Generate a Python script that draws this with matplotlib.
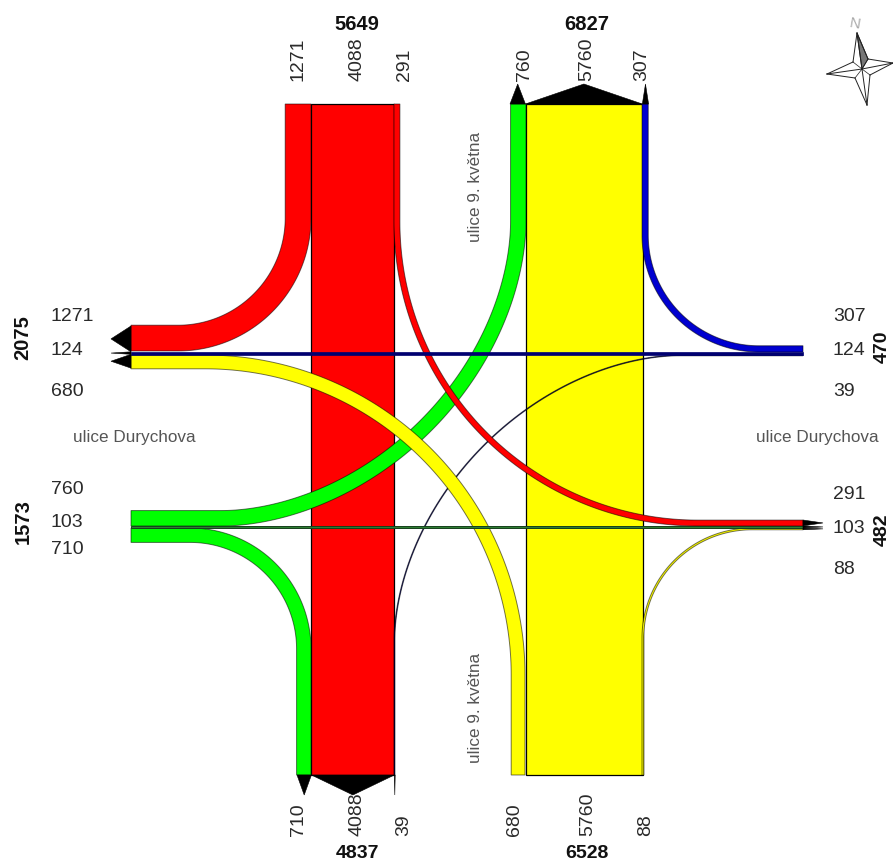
import matplotlib
matplotlib.use('Agg')
import numpy as np
import matplotlib.pyplot as plt
from matplotlib.patches import Polygon

# Traffic volumes by turning movement (vehicles)
NORTH_OUT = [760, 5760, 307]
NORTH_IN = [1271, 4088, 291]
SOUTH_OUT = [710, 4088, 39]
SOUTH_IN = [680, 5760, 88]
WEST_OUT = [1271, 124, 680]
WEST_IN = [760, 103, 710]
EAST_OUT = [291, 103, 88]
EAST_IN = [307, 124, 39]

# Arm totals
NORTH_TOTALS = [5649, 6827]
SOUTH_TOTALS = [4837, 6528]
WEST_TOTALS = [2075, 1573]
EAST_TOTALS = [470, 482]

STREET_WE = "ulice Durychova"
STREET_NS = "ulice 9. května"

# Pixels of band width per vehicle
SCALE = 0.0203
RED = '#ff0000'
YELLOW = '#ffff00'
GREEN = '#00ff00'
BLUE = '#0000d0'
NAVY = '#000070'
GREY = '#555555'
TEXT = '#2a2a2a'

plt.rcParams['font.family'] = ['Liberation Sans', 'DejaVu Sans']

fig = plt.figure(figsize=(8.93, 8.63), dpi=100)
ax = fig.add_axes([0, 0, 1, 1])
# Axes run in picture pixels, y going down
ax.set_xlim(0, 893)
ax.set_ylim(863, 0)
ax.axis('off')

LEFT, RIGHT = 131, 803
TOP, BOTTOM = 104, 775
TIP = 20


def turn(flow, cx, cy, r_out, sx, sy, color, z, n=2.0):
    # Turning band: vertical leg, rounded corner round (cx, cy), horizontal leg
    # n below 2 pulls the corner in a little, the source curves are not true circles
    r_in = r_out - flow * SCALE
    x_end = LEFT if sx > 0 else RIGHT
    y_end = TOP if sy > 0 else BOTTOM
    t = np.linspace(0, np.pi / 2, 120)
    c = np.cos(t) ** (2 / n)
    s = np.sin(t) ** (2 / n)
    inner = np.column_stack((cx + sx * r_in * c, cy + sy * r_in * s))
    outer = np.column_stack((cx + sx * r_out * c, cy + sy * r_out * s))
    pts = np.vstack((
        [[cx + sx * r_in, y_end]], inner, [[x_end, cy + sy * r_in]],
        [[x_end, cy + sy * r_out]], outer[::-1], [[cx + sx * r_out, y_end]],
    ))
    ax.add_patch(Polygon(pts, closed=True, facecolor=color, edgecolor=(0, 0, 0, 0.55), lw=0.7, zorder=z))


def head(a, b, tip):
    # Black arrow head on a band end
    ax.add_patch(Polygon([a, b, tip], closed=True, facecolor='black', edgecolor='black', lw=0.4, zorder=8))


# Straight through movements on the main road
x = 311
w_ns_s = NORTH_IN[1] * SCALE
ax.fill([x, x + w_ns_s, x + w_ns_s, x], [TOP, TOP, BOTTOM, BOTTOM], facecolor=RED, edgecolor='black', lw=0.9, zorder=1)
x = 526
w_ns_n = NORTH_OUT[1] * SCALE
ax.fill([x, x + w_ns_n, x + w_ns_n, x], [TOP, TOP, BOTTOM, BOTTOM], facecolor=YELLOW, edgecolor='black', lw=0.9, zorder=1)

# Turning movements, drawn in crossing order
turn(SOUTH_OUT[2], 679, 640, 285, -1, -1, NAVY, 2, n=1.83)
turn(SOUTH_IN[2], 752, 638, 110, -1, -1, YELLOW, 2)
turn(NORTH_IN[0], 178, 218, 133, 1, 1, RED, 3)
turn(EAST_IN[0], 759, 235, 117, -1, 1, BLUE, 3)
turn(WEST_IN[0], 222, 222, 304, 1, 1, GREEN, 3, n=1.85)
turn(NORTH_IN[2], 698, 222, 304, -1, 1, RED, 4)
turn(WEST_OUT[2], 205, 675, 320, 1, -1, YELLOW, 5)
turn(WEST_IN[2], 190, 649, 121, 1, -1, GREEN, 5)

# Straight through movements on the side road
w = WEST_OUT[1] * SCALE
ax.fill([LEFT, RIGHT, RIGHT, LEFT], [352, 352, 352 + w, 352 + w], facecolor=NAVY, edgecolor=NAVY, lw=0.5, zorder=6)
w = WEST_IN[1] * SCALE
ax.fill([LEFT, RIGHT, RIGHT, LEFT], [526, 526, 526 + w, 526 + w], facecolor='#2e7d32', edgecolor='#14401c', lw=0.7, zorder=6)

# Arrow heads on the exits, widths taken from the volumes
x = 510
for v in NORTH_OUT:
    wv = v * SCALE
    head((x, TOP), (x + wv, TOP), (x + wv / 2, TOP - TIP))
    x += wv
x = 297
for v in SOUTH_OUT:
    wv = v * SCALE
    head((x, BOTTOM), (x + wv, BOTTOM), (x + wv / 2, BOTTOM + TIP))
    x += wv
y = 326
for v in WEST_OUT:
    wv = v * SCALE
    head((LEFT, y), (LEFT, y + wv), (LEFT - TIP, y + wv / 2))
    y += wv
y = 520
for v in EAST_OUT:
    wv = v * SCALE
    head((RIGHT, y), (RIGHT, y + wv), (RIGHT + TIP, y + wv / 2))
    y += wv

# Volume labels, rotated on north and south arms
for xp, v in zip([298, 357, 405, 525, 587, 642], NORTH_IN + NORTH_OUT):
    ax.text(xp, 81, str(v), rotation=90, ha='center', va='bottom', fontsize=14, color=TEXT)
for xp, v in zip([298, 357, 404, 515, 588, 646], SOUTH_OUT + SOUTH_IN):
    ax.text(xp, 836, str(v), rotation=90, ha='center', va='bottom', fontsize=14, color=TEXT)
for yp, v in zip([316, 350, 391, 489, 522, 549], WEST_OUT + WEST_IN):
    ax.text(51, yp, str(v), ha='left', va='center', fontsize=14, color=TEXT)
for yp, v in zip([316, 350, 391, 494, 528, 569], EAST_IN + EAST_OUT):
    ax.text(833, yp, str(v), ha='left', va='center', fontsize=14, color=TEXT)

# Arm totals in bold
for xp, v in zip([357, 587], NORTH_TOTALS):
    ax.text(xp, 24, str(v), ha='center', va='center', fontsize=14.5, fontweight='bold', color='#111111')
for xp, v in zip([357, 587], SOUTH_TOTALS):
    ax.text(xp, 853, str(v), ha='center', va='center', fontsize=14, fontweight='bold', color='#111111')
for yp, v in zip([338, 522], WEST_TOTALS):
    ax.text(23, yp, str(v), rotation=90, ha='center', va='center', fontsize=14.5, fontweight='bold', color='#111111')
for yp, v in zip([347, 530], EAST_TOTALS):
    ax.text(882, yp, str(v), rotation=90, ha='center', va='center', fontsize=14, fontweight='bold', color='#111111')

# Street names
ax.text(134, 437, STREET_WE, ha='center', va='center', fontsize=12.3, color=GREY)
ax.text(817, 437, STREET_WE, ha='center', va='center', fontsize=12.3, color=GREY)
ax.text(475, 187, STREET_NS, rotation=90, ha='center', va='center', fontsize=12.3, color=GREY)
ax.text(475, 708, STREET_NS, rotation=90, ha='center', va='center', fontsize=12.3, color=GREY)

# North arrow
centre = (862, 69)
tips = [(857, 33), (893, 63), (867, 105), (827, 74)]
waist = [(868, 59), (870, 75), (855, 78), (853, 62)]
ax.add_patch(Polygon([tips[0], waist[0], centre], closed=True, facecolor='#777777', edgecolor='#222222', lw=0.7))
for i in range(4):
    for p in (waist[i], waist[i - 1]):
        ax.plot([tips[i][0], p[0]], [tips[i][1], p[1]], color='#222222', lw=0.7)
    ax.plot([tips[i][0], centre[0]], [tips[i][1], centre[1]], color='#222222', lw=0.7)
    ax.plot([waist[i][0], centre[0]], [waist[i][1], centre[1]], color='#222222', lw=0.5)
ax.text(855, 24, 'N', rotation=-10, ha='center', va='center', fontsize=11, color='#aaaaaa')

fig.savefig('out.png', dpi=100)
